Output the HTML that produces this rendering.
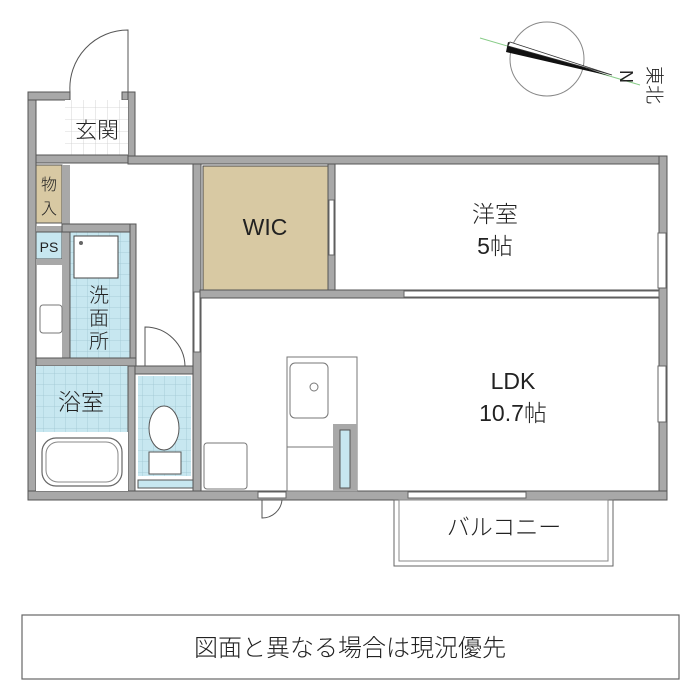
<!DOCTYPE html>
<html><head><meta charset="utf-8"><style>
html,body{margin:0;padding:0;background:#fff}
svg{display:block}
text{font-family:"Liberation Sans","Noto Sans CJK JP",sans-serif;fill:#222;font-weight:300}
</style></head><body>
<svg width="700" height="700" viewBox="0 0 700 700" xmlns="http://www.w3.org/2000/svg">
<defs>
<pattern id="tile" width="11" height="11" patternUnits="userSpaceOnUse">
<rect width="11" height="11" fill="#c7e7f0"/>
<path d="M11 0V11M0 11H11" stroke="#9fc6d2" stroke-width="0.8"/>
</pattern>
<pattern id="gtile" width="12" height="12" patternUnits="userSpaceOnUse">
<rect width="12" height="12" fill="#fff"/>
<path d="M12 0V12M0 12H12" stroke="#ccc" stroke-width="0.8"/>
</pattern>
</defs>

<circle cx="547" cy="59" r="37" fill="none" stroke="#888" stroke-width="1"/>
<line x1="480" y1="38" x2="640" y2="85" stroke="#8c8" stroke-width="1"/>
<polygon points="508,42 506,52 610,76" fill="#111"/>
<polygon points="510,42 612,75 508,46" fill="#fff" stroke="#333" stroke-width="0.8"/>
<text x="620" y="70" font-size="18" transform="rotate(90 620 70)">N</text>
<text x="648" y="66" font-size="19" transform="rotate(90 648 66)">東北</text>

<path d="M128 92 V30 A58 58 0 0 0 70 92" fill="none" stroke="#555" stroke-width="1"/>

<g fill="#a8a8a8" stroke="#555" stroke-width="1">
<rect x="28" y="92" width="8" height="408"/>
<rect x="28" y="92" width="42" height="8"/>
<rect x="122" y="92" width="12" height="8"/>
<rect x="128" y="92" width="7" height="72"/>
<rect x="128" y="156" width="539" height="8"/>
<rect x="659" y="156" width="8" height="344"/>
<rect x="28" y="491" width="639" height="9"/>
</g>

<rect x="65" y="100" width="63" height="56" fill="url(#gtile)"/>
<rect x="36" y="155" width="92" height="8" fill="#a8a8a8" stroke="#555"/>
<text x="97" y="138" font-size="22" text-anchor="middle">玄関</text>

<rect x="36" y="165" width="26" height="58" fill="#d8c9a3" stroke="#555"/>
<text x="49" y="190" font-size="16" text-anchor="middle">物</text>
<text x="49" y="214" font-size="16" text-anchor="middle">入</text>
<rect x="36" y="226" width="29" height="6" fill="#a8a8a8"/>
<rect x="36" y="232" width="26" height="27" fill="#c7e7f0" stroke="#555"/>
<text x="49" y="252" font-size="14" text-anchor="middle">PS</text>
<rect x="36" y="259" width="29" height="6" fill="#a8a8a8"/>
<rect x="62" y="165" width="8" height="200" fill="#a8a8a8"/>

<rect x="40" y="305" width="22" height="28" rx="3" fill="none" stroke="#777"/>
<rect x="70" y="232" width="60" height="126" fill="url(#tile)" stroke="#555"/>
<rect x="74" y="236" width="44" height="42" fill="#fff" stroke="#444"/>
<circle cx="81" cy="243" r="2" fill="#666"/>
<text x="99" y="302" font-size="20" text-anchor="middle">洗</text>
<text x="99" y="325" font-size="20" text-anchor="middle">面</text>
<text x="99" y="348" font-size="20" text-anchor="middle">所</text>
<rect x="62" y="224" width="73" height="8" fill="#a8a8a8" stroke="#555"/>
<rect x="130" y="224" width="6" height="142" fill="#a8a8a8" stroke="#555"/>
<rect x="36" y="358" width="100" height="8" fill="#a8a8a8" stroke="#555"/>

<rect x="36" y="366" width="92" height="66" fill="url(#tile)"/>
<text x="81" y="410" font-size="23" text-anchor="middle">浴室</text>
<rect x="128" y="366" width="7" height="125" fill="#a8a8a8" stroke="#555"/>
<rect x="36" y="432" width="92" height="59" fill="#fff"/>
<rect x="42" y="438" width="80" height="48" rx="14" fill="none" stroke="#666" stroke-width="1.2"/>
<rect x="46" y="442" width="72" height="40" rx="12" fill="none" stroke="#888"/>

<rect x="135" y="366" width="58" height="8" fill="#a8a8a8" stroke="#555"/>
<path d="M145 366 V327 A40 40 0 0 1 185 366" fill="none" stroke="#555"/>
<rect x="138" y="376" width="53" height="100" fill="url(#tile)"/>
<ellipse cx="164" cy="428" rx="15" ry="22" fill="#fff" stroke="#555"/>
<rect x="149" y="452" width="32" height="22" fill="#fff" stroke="#555"/>
<rect x="138" y="480" width="55" height="8" fill="#c7e7f0" stroke="#555"/>

<rect x="193" y="164" width="8" height="327" fill="#a8a8a8" stroke="#555"/>
<rect x="194" y="292" width="6" height="60" fill="#fff" stroke="#666"/>

<rect x="203" y="166" width="125" height="125" fill="#d8c9a3" stroke="#444"/>
<text x="265" y="235" font-size="23" text-anchor="middle">WIC</text>
<rect x="328" y="164" width="7" height="128" fill="#a8a8a8" stroke="#555"/>
<rect x="329" y="200" width="5" height="55" fill="#fff" stroke="#666"/>

<text x="495" y="222" font-size="23" text-anchor="middle">洋室</text>
<text x="495" y="254" font-size="23" text-anchor="middle">5帖</text>
<rect x="200" y="290" width="459" height="8" fill="#a8a8a8" stroke="#555"/>
<rect x="404" y="291" width="255" height="6" fill="#fff" stroke="#666"/>
<rect x="658" y="233" width="8" height="55" fill="#fff" stroke="#666"/>
<rect x="658" y="366" width="8" height="56" fill="#fff" stroke="#666"/>

<text x="513" y="389" font-size="23" text-anchor="middle">LDK</text>
<text x="513" y="421" font-size="23" text-anchor="middle">10.7帖</text>
<rect x="287" y="357" width="70" height="134" fill="#fff" stroke="#777"/>
<rect x="290" y="363" width="38" height="55" rx="5" fill="none" stroke="#777"/>
<circle cx="314" cy="387" r="4" fill="none" stroke="#777"/>
<line x1="287" y1="447" x2="333" y2="447" stroke="#777"/>
<rect x="333" y="424" width="24" height="67" fill="#a8a8a8"/>
<rect x="340" y="430" width="10" height="58" fill="#c7e7f0" stroke="#555"/>
<rect x="204" y="443" width="43" height="46" rx="3" fill="#fff" stroke="#777"/>
<rect x="408" y="492" width="118" height="6" fill="#fff" stroke="#666"/>
<rect x="258" y="492" width="28" height="6" fill="#fff" stroke="#666"/>
<path d="M262 500 V518 A20 20 0 0 0 282 500" fill="none" stroke="#555"/>

<rect x="394" y="500" width="219" height="66" fill="#fff" stroke="#666"/>
<rect x="399" y="500" width="209" height="61" fill="none" stroke="#888"/>
<text x="504" y="535" font-size="23" text-anchor="middle">バルコニー</text>

<rect x="22" y="615" width="657" height="64" fill="#fff" stroke="#666" stroke-width="1.2"/>
<text x="350" y="656" font-size="24" text-anchor="middle">図面と異なる場合は現況優先</text>
</svg>
</body></html>
